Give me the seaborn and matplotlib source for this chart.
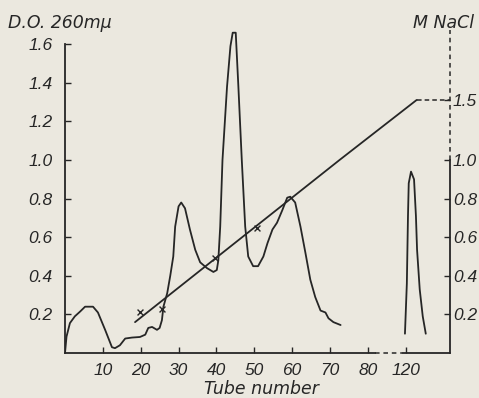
import numpy as np
import seaborn as sns
import matplotlib.pyplot as plt

# --- data ---
# absorbance of the fractions, tubes 0-73
tube = [0, 0.4, 1.3, 2.6, 4.0, 5.3, 7.4, 8.7, 10.6, 12.4, 13.2, 14.5, 15.9, 17.7,
        19.8, 21.2, 22.0, 23.0, 24.3, 25.0, 25.6, 26.0, 27.0, 27.8, 28.6, 29.1,
        30.0, 30.7, 31.7, 33.0, 34.4, 35.7, 37.5, 39.2, 40.1, 40.5, 41.0, 41.6,
        42.8, 43.7, 44.3, 45.1, 45.8, 46.7, 47.6, 48.4, 49.7, 51.0, 52.4, 53.5,
        54.8, 56.0, 57.4, 58.7, 59.5, 60.8, 62.2, 63.5, 64.8, 66.1, 67.5, 68.8,
        69.6, 70.9, 72.8]
od = [0, 0.085, 0.155, 0.19, 0.215, 0.24, 0.24, 0.21, 0.12, 0.03, 0.025, 0.04,
      0.075, 0.08, 0.083, 0.095, 0.13, 0.135, 0.12, 0.13, 0.17, 0.24, 0.31, 0.4,
      0.5, 0.655, 0.76, 0.78, 0.75, 0.64, 0.535, 0.47, 0.44, 0.42, 0.43, 0.48,
      0.655, 1.0, 1.38, 1.59, 1.66, 1.66, 1.38, 1.0, 0.655, 0.5, 0.45, 0.45, 0.5,
      0.57, 0.64, 0.675, 0.74, 0.805, 0.81, 0.78, 0.655, 0.52, 0.38, 0.29, 0.22,
      0.21, 0.18, 0.16, 0.145]

# second peak, after the break in the tube axis
tube_b = [119.8, 120.3, 120.6, 120.8, 121.4, 122.2, 122.7, 123.0, 123.7, 124.5, 125.3]
od_b = [0.10, 0.36, 0.71, 0.88, 0.94, 0.90, 0.71, 0.535, 0.33, 0.19, 0.10]

# NaCl gradient (right axis) and measured salt points
grad_tube = [18.5, 72.5, 122.9]
grad_nacl = [0.16, 1.0, 1.5]
salt_tube = [19.8, 25.7, 39.7, 50.8]
salt_nacl = [0.21, 0.23, 0.49, 0.65]

x_ticks = [10, 20, 30, 40, 50, 60, 70, 80, 120]
od_ticks = [0.2, 0.4, 0.6, 0.8, 1.0, 1.2, 1.4, 1.6]
nacl_ticks = [0.2, 0.4, 0.6, 0.8, 1.0, 1.5]


# broken tube axis: 82..113 squeezed, 120 lands where 90 would be
def x_fwd(t):
    t = np.asarray(t, float)
    return np.where(t <= 82, t, np.where(t >= 113, t - 30, 82 + (t - 82) / 31))


def x_inv(p):
    p = np.asarray(p, float)
    return np.where(p <= 82, p, np.where(p >= 83, p + 30, 82 + (p - 82) * 31))


# salt axis is compressed above 1.0 M
def s_fwd(v):
    v = np.asarray(v, float)
    return np.where(v <= 1, v, 1 + (v - 1) * 0.623)


def s_inv(y):
    y = np.asarray(y, float)
    return np.where(y <= 1, y, 1 + (y - 1) / 0.623)


sns.set_style("white")
plt.rcParams['font.family'] = ['Liberation Sans', 'DejaVu Sans']
plt.rcParams['font.style'] = 'italic'

ink = '#262626'
paper = '#ebe8df'
lw = 1.3

fig = plt.figure(figsize=(4.79, 3.98), dpi=100, facecolor=paper)
ax = fig.add_axes([65 / 479, 45 / 398, 385 / 479, 323 / 398])
ax.set_facecolor(paper)
ax.set_xscale('function', functions=(x_fwd, x_inv))
x_right = float(x_inv(101.7))
ax.set_xlim(0, x_right)
y_top = 1.674
ax.set_ylim(0, y_top)

ax2 = ax.twinx()
ax2.set_yscale('function', functions=(s_fwd, s_inv))
ax2.set_ylim(0, float(s_inv(y_top)))

sns.lineplot(x=tube, y=od, ax=ax, sort=False, estimator=None, color=ink, lw=lw)
sns.lineplot(x=tube_b, y=od_b, ax=ax, sort=False, estimator=None, color=ink, lw=lw)
sns.lineplot(x=grad_tube, y=grad_nacl, ax=ax2, sort=False, estimator=None, color=ink, lw=lw)
ax2.plot([grad_tube[-1], x_right], [grad_nacl[-1], grad_nacl[-1]], color=ink, lw=1.1,
         ls=(0, (3, 2)), clip_on=False)
sns.scatterplot(x=salt_tube, y=salt_nacl, ax=ax2, marker='x', s=18, color=ink, linewidth=1)

# axes frame
for s in ['top', 'right']:
    ax.spines[s].set_visible(False)
for s in ['top', 'left', 'bottom']:
    ax2.spines[s].set_visible(False)
for sp in [ax.spines['left'], ax.spines['bottom'], ax2.spines['right']]:
    sp.set_color(ink)
    sp.set_linewidth(lw)
ax.spines['left'].set_bounds(0, 1.6)
ax.spines['bottom'].set_bounds(0, 82)
ax2.spines['right'].set_bounds(0, 1.0)
xt = ax.get_xaxis_transform()
ax.plot([82, 119.3], [0, 0], transform=xt, color=ink, lw=1.1, ls=(0, (3, 2.5)), clip_on=False)
ax.plot([119.3, x_right], [0, 0], transform=xt, color=ink, lw=lw, clip_on=False)
ax2.plot([1, 1], [1.0, float(s_inv(y_top))], transform=ax2.get_yaxis_transform(),
         color=ink, lw=1.1, ls=(0, (3, 2.5)), clip_on=False)

ax.set_xticks(x_ticks)
ax.set_xticklabels([str(t) for t in x_ticks])
ax.set_yticks(od_ticks)
ax.set_yticklabels([f"{v:.1f}" for v in od_ticks])
ax2.set_yticks(nacl_ticks)
ax2.set_yticklabels([f"{v:.1f}" for v in nacl_ticks])
ax.tick_params(axis='x', bottom=True, direction='in', length=4, width=1, color=ink,
               labelcolor=ink, labelsize=12.5, pad=7)
ax.tick_params(axis='y', left=True, direction='in', length=4, width=1, color=ink,
               labelcolor=ink, labelsize=12.5, pad=9)
ax2.tick_params(axis='y', right=True, direction='in', length=4, width=1, color=ink,
                labelcolor=ink, labelsize=12.5, pad=2)
ax.set_xlabel('')
ax.set_ylabel('')
ax2.set_ylabel('')

lab = dict(family='DejaVu Sans', style='oblique', fontsize=12.5, color=ink)
fig.text(8 / 479, 1 - 28 / 398, 'D.O. 260mμ', va='baseline', ha='left', **lab)
fig.text(413 / 479, 1 - 28 / 398, 'M NaCl', va='baseline', ha='left', **lab)
fig.text(261 / 479, 1 - 394 / 398, 'Tube number', va='baseline', ha='center', **lab)

plt.savefig('out.png', dpi=100, facecolor=paper)
